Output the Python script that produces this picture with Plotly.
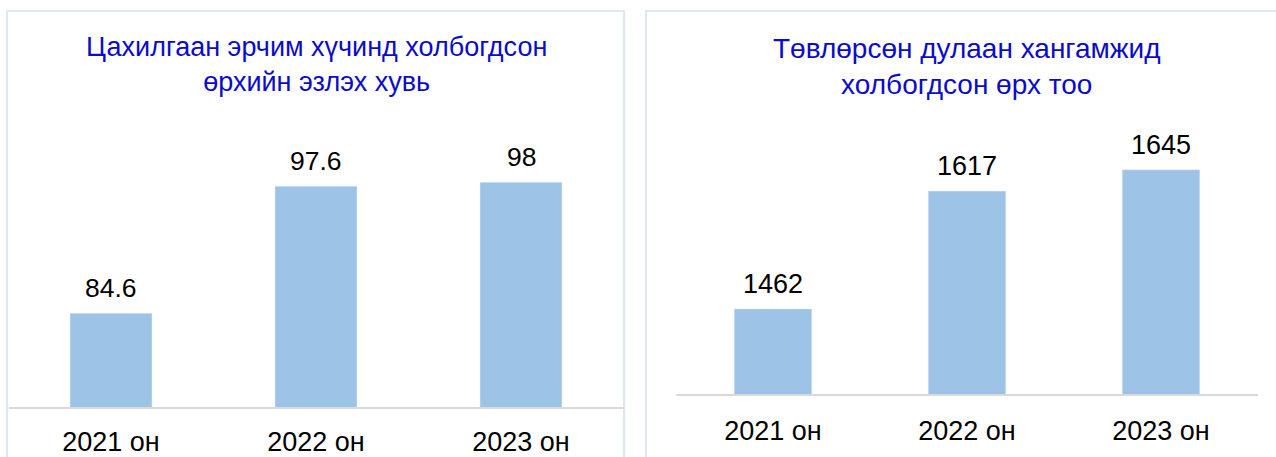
import plotly.graph_objects as go

W, H = 1276, 457

years = ["2021 он", "2022 он", "2023 он"]
electricity_share = [84.6, 97.6, 98]
heating_households = [1462, 1617, 1645]

title_left = "Цахилгаан эрчим хүчинд холбогдсон<br>өрхийн эзлэх хувь"
title_right = "Төвлөрсөн дулаан хангамжид<br>холбогдсон өрх тоо"

BAR = "#9DC3E6"
TITLE_BLUE = "#0B0BC8"
FONT = "Arial, Liberation Sans, sans-serif"


def px(x):
    return x / W


def py(y):
    # y measured from the top of the page
    return (H - y) / H


fig = go.Figure()
fig.add_trace(go.Bar(x=years, y=electricity_share, marker_color=BAR, width=0.4,
                     xaxis="x", yaxis="y", hoverinfo="x+y"))
fig.add_trace(go.Bar(x=years, y=heating_households, marker_color=BAR, width=0.4,
                     xaxis="x2", yaxis="y2", hoverinfo="x+y"))

annotations = []
for yr, v in zip(years, electricity_share):
    annotations.append(dict(x=yr, y=v, xref="x", yref="y", text=f"{v:g}", showarrow=False,
                            yanchor="middle", yshift=25, font=dict(size=26.5, color="#000000")))
for yr, v in zip(years, heating_households):
    annotations.append(dict(x=yr, y=v, xref="x2", yref="y2", text=f"{v:g}", showarrow=False,
                            yanchor="middle", yshift=25, font=dict(size=27, color="#000000")))

annotations.append(dict(x=px(316), y=py(64), xref="paper", yref="paper", text=title_left,
                        showarrow=False, xanchor="center", yanchor="middle",
                        font=dict(size=27, color=TITLE_BLUE)))
annotations.append(dict(x=px(967), y=py(66), xref="paper", yref="paper", text=title_right,
                        showarrow=False, xanchor="center", yanchor="middle",
                        font=dict(size=28, color=TITLE_BLUE)))

axis_common = dict(showgrid=False, zeroline=False, ticks="", showline=True,
                   linecolor="#D9D9D9", linewidth=2,
                   tickfont=dict(size=27, color="#000000"), fixedrange=True)

fig.update_layout(
    width=W, height=H,
    margin=dict(l=0, r=0, t=0, b=0),
    paper_bgcolor="white", plot_bgcolor="rgba(0,0,0,0)",
    font=dict(family=FONT, color="#000000"),
    showlegend=False,
    xaxis=dict(domain=[px(8.5), px(623.5)], anchor="y", ticklabelstandoff=10, **axis_common),
    yaxis=dict(domain=[py(407), py(162.75)], anchor="x", range=[75, 100],
               visible=False, fixedrange=True),
    xaxis2=dict(domain=[px(676), px(1258)], anchor="y2", ticklabelstandoff=12, **axis_common),
    yaxis2=dict(domain=[py(394), py(128)], anchor="x2", range=[1350, 1700],
                visible=False, fixedrange=True),
    annotations=annotations,
    shapes=[
        dict(type="rect", xref="paper", yref="paper", x0=px(7), x1=px(624), y0=-0.05, y1=py(11),
             line=dict(color="#DDE8F5", width=2), layer="below"),
        dict(type="rect", xref="paper", yref="paper", x0=px(646), x1=1.05, y0=-0.05, y1=py(11),
             line=dict(color="#DDE8F5", width=2), layer="below"),
    ],
)

fig.write_html("out.html", config={"displayModeBar": False},
               post_script="document.body.style.margin = '0';")
